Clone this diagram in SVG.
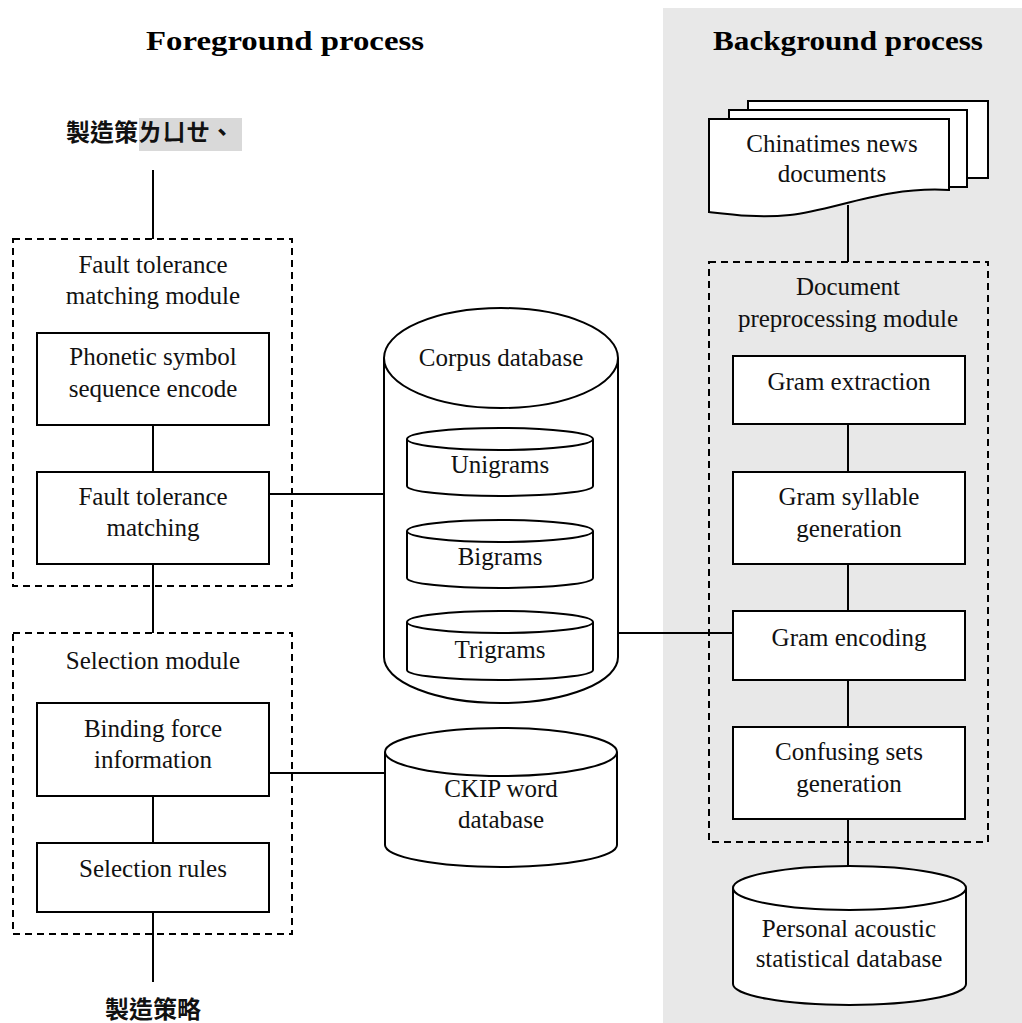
<svg xmlns="http://www.w3.org/2000/svg" width="1022" height="1023" viewBox="0 0 1022 1023">
<style>
.t{font-family:"Liberation Serif","Times New Roman",serif;font-size:25px;fill:#111;text-anchor:middle}
.h{font-family:"Liberation Serif","Times New Roman",serif;font-size:28px;font-weight:bold;fill:#000;text-anchor:middle}
.c{font-family:"Noto Sans CJK TC","Noto Sans CJK SC",sans-serif;font-size:24px;font-weight:bold;fill:#111}
.box{fill:#fff;stroke:#000;stroke-width:2}
.dash{fill:none;stroke:#000;stroke-width:2;stroke-dasharray:7,5}
.ln{stroke:#000;stroke-width:2;fill:none}
</style>
<rect x="663" y="8" width="359" height="1015" fill="#e8e8e8"/>
<text class="h" x="285" y="50" textLength="278" lengthAdjust="spacingAndGlyphs">Foreground process</text>
<text class="h" x="848" y="50" textLength="270" lengthAdjust="spacingAndGlyphs">Background process</text>

<g id="input">
<rect x="139" y="118" width="103" height="33" fill="#d9d9d9"/>
<text class="c" x="66" y="141">製造策ㄌㄩㄝ、</text>
</g>
<g id="output"><text class="c" x="105" y="1018">製造策略</text></g>

<g id="connectors">
<line class="ln" x1="153" y1="170" x2="153" y2="239"/>
<line class="ln" x1="153" y1="425" x2="153" y2="472"/>
<line class="ln" x1="153" y1="564" x2="153" y2="633"/>
<line class="ln" x1="153" y1="796" x2="153" y2="843"/>
<line class="ln" x1="153" y1="912" x2="153" y2="982"/>
<line class="ln" x1="269" y1="494" x2="385" y2="494"/>
<line class="ln" x1="269" y1="773" x2="385" y2="773"/>
<line class="ln" x1="618" y1="633" x2="733" y2="633"/>
<line class="ln" x1="848" y1="205" x2="848" y2="262"/>
<line class="ln" x1="848" y1="424" x2="848" y2="472"/>
<line class="ln" x1="848" y1="564" x2="848" y2="611"/>
<line class="ln" x1="848" y1="680" x2="848" y2="727"/>
<line class="ln" x1="848" y1="819" x2="848" y2="866"/>
</g>

<g id="fault-module">
<rect class="dash" x="13" y="239" width="279" height="347"/>
<text class="t" x="153" y="273">Fault tolerance</text>
<text class="t" x="153" y="304">matching module</text>
</g>
<g id="phonetic">
<rect class="box" x="37" y="333" width="232" height="92"/>
<text class="t" x="153" y="365">Phonetic symbol</text>
<text class="t" x="153" y="397">sequence encode</text>
</g>
<g id="ftm">
<rect class="box" x="37" y="472" width="232" height="92"/>
<text class="t" x="153" y="505">Fault tolerance</text>
<text class="t" x="153" y="536">matching</text>
</g>
<g id="selection-module">
<rect class="dash" x="13" y="633" width="279" height="301"/>
<text class="t" x="153" y="669">Selection module</text>
</g>
<g id="binding">
<rect class="box" x="37" y="703" width="232" height="93"/>
<text class="t" x="153" y="737">Binding force</text>
<text class="t" x="153" y="768">information</text>
</g>
<g id="rules">
<rect class="box" x="37" y="843" width="232" height="69"/>
<text class="t" x="153" y="877">Selection rules</text>
</g>

<g id="corpus">
<path class="box" d="M384,358 V657 A117,46 0 0 0 618,657 V358"/>
<ellipse class="box" cx="501" cy="358" rx="117" ry="50"/>
<text class="t" x="501" y="366">Corpus database</text>
</g>
<g id="unigrams">
<path class="box" d="M407,439 V486 A93,10 0 0 0 593,486 V439"/>
<ellipse class="box" cx="500" cy="439" rx="93" ry="11"/>
<text class="t" x="500" y="473">Unigrams</text>
</g>
<g id="bigrams">
<path class="box" d="M407,531 V578 A93,10 0 0 0 593,578 V531"/>
<ellipse class="box" cx="500" cy="531" rx="93" ry="11"/>
<text class="t" x="500" y="565">Bigrams</text>
</g>
<g id="trigrams">
<path class="box" d="M407,622 V670 A93,10 0 0 0 593,670 V622"/>
<ellipse class="box" cx="500" cy="622" rx="93" ry="11"/>
<text class="t" x="500" y="658">Trigrams</text>
</g>
<g id="ckip">
<path class="box" d="M385,752 V845 A116,22 0 0 0 617,845 V752"/>
<ellipse class="box" cx="501" cy="752" rx="116" ry="24"/>
<text class="t" x="501" y="797">CKIP word</text>
<text class="t" x="501" y="828">database</text>
</g>

<g id="documents">
<rect class="box" x="748" y="101" width="240" height="77"/>
<rect class="box" x="729" y="110" width="238" height="77"/>
<path class="box" d="M709,119 H949 V190 C885,186 835,210 790,215 C760,218 735,215 709,212 Z"/>
<text class="t" x="832" y="152">Chinatimes news</text>
<text class="t" x="832" y="182">documents</text>
</g>
<g id="doc-module">
<rect class="dash" x="709" y="262" width="279" height="580"/>
<text class="t" x="848" y="295">Document</text>
<text class="t" x="848" y="327">preprocessing module</text>
</g>
<g id="gram-extraction">
<rect class="box" x="733" y="356" width="232" height="68"/>
<text class="t" x="849" y="390">Gram extraction</text>
</g>
<g id="gram-syllable">
<rect class="box" x="733" y="472" width="232" height="92"/>
<text class="t" x="849" y="505">Gram syllable</text>
<text class="t" x="849" y="537">generation</text>
</g>
<g id="gram-encoding">
<rect class="box" x="733" y="611" width="232" height="69"/>
<text class="t" x="849" y="646">Gram encoding</text>
</g>
<g id="confusing">
<rect class="box" x="733" y="727" width="232" height="92"/>
<text class="t" x="849" y="760">Confusing sets</text>
<text class="t" x="849" y="792">generation</text>
</g>
<g id="personal">
<path class="box" d="M733,888 V984 A116.5,21 0 0 0 966,984 V888"/>
<ellipse class="box" cx="849.5" cy="888" rx="116.5" ry="22"/>
<text class="t" x="849" y="937">Personal acoustic</text>
<text class="t" x="849" y="967">statistical database</text>
</g>
</svg>
